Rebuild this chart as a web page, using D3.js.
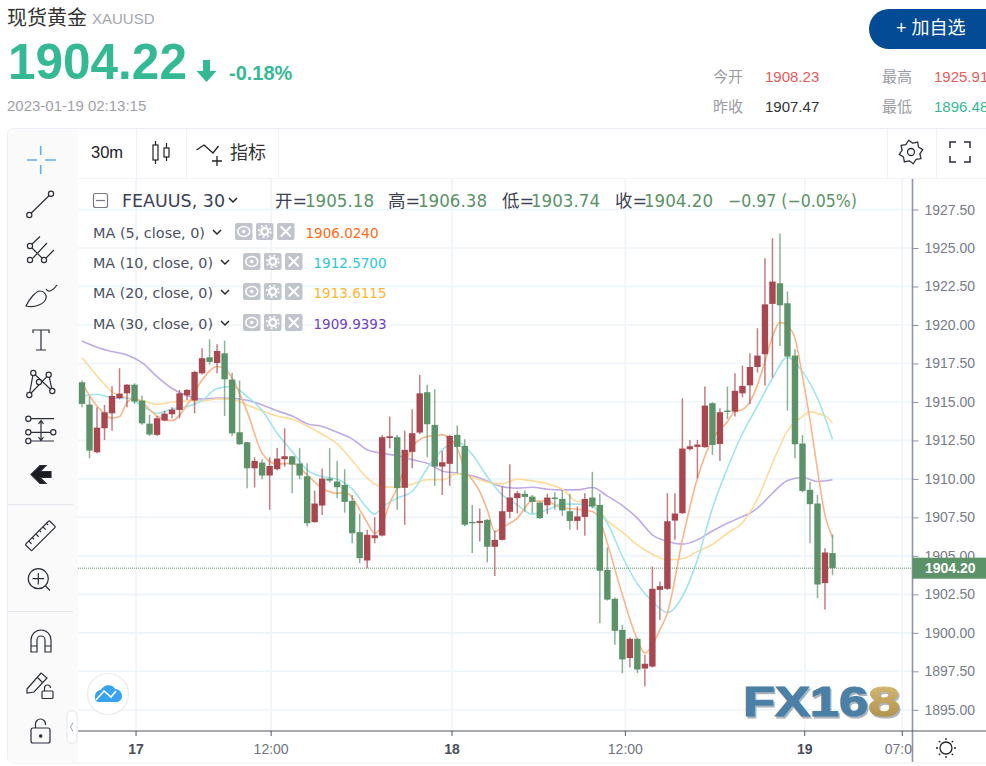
<!DOCTYPE html>
<html><head><meta charset="utf-8">
<script src="https://cdn.jsdelivr.net/npm/d3@7/dist/d3.min.js"></script>
<style>html,body{margin:0;padding:0;background:#fff;overflow:hidden}svg{display:block}</style>
</head><body><svg id="c" width="986" height="766"></svg>
<script>
// ---------- data ----------
const openP=[1916.28,1914.83,1911.73,1913.29,1914.26,1915.24,1915.56,1916.12,1915.09,1913.59,
1912.86,1913.79,1914.20,1914.48,1915.43,1915.09,1916.86,1917.90,1917.53,1918.16,
1916.45,1913.03,1912.38,1910.69,1911.06,1910.22,1910.63,1911.28,1911.47,1911.00,
1910.17,1907.19,1908.27,1910.02,1909.83,1909.61,1908.57,1906.54,1904.70,1906.15,
1906.32,1912.66,1912.71,1909.42,1911.76,1913.01,1915.63,1913.51,1910.80,1910.98,
1912.86,1912.14,1907.21,1907.14,1907.34,1905.59,1906.04,1907.86,1908.75,1909.03,
1908.85,1908.47,1908.29,1908.79,1908.70,1907.90,1907.27,1907.53,1908.79,1908.31,
1904.09,1902.21,1900.19,1898.36,1899.61,1897.68,1897.81,1902.79,1902.86,1907.29,
1907.77,1911.93,1912.08,1912.06,1914.92,1912.27,1914.44,1914.37,1915.56,1916.08,
1917.27,1918.10,1921.37,1922.71,1921.41,1918.01,1912.30,1909.29,1908.40,1903.23,1905.18];
const highP=[1916.39,1915.35,1914.65,1914.80,1916.04,1917.19,1916.15,1916.21,1915.41,1914.16,
1914.09,1914.41,1914.65,1915.78,1915.82,1917.03,1918.49,1919.07,1918.74,1918.98,
1916.90,1916.39,1912.42,1911.41,1911.28,1911.41,1912.00,1913.29,1911.49,1912.00,
1911.02,1909.24,1910.67,1912.00,1911.17,1910.63,1908.96,1907.73,1906.69,1907.51,
1912.86,1914.05,1912.86,1913.14,1914.53,1916.76,1916.11,1915.82,1911.82,1912.86,
1913.47,1912.58,1908.31,1908.08,1907.38,1906.63,1909.50,1910.95,1909.22,1909.24,
1908.96,1908.49,1909.03,1909.14,1909.29,1909.03,1908.21,1909.07,1910.46,1909.03,
1905.54,1902.29,1900.52,1899.70,1899.65,1898.57,1904.31,1903.33,1909.07,1909.07,
1915.24,1912.53,1912.53,1916.00,1914.98,1914.59,1916.00,1916.86,1917.36,1918.16,
1919.79,1924.33,1925.63,1925.95,1922.17,1918.42,1912.86,1909.81,1908.96,1905.50,1906.38];
const lowP=[1914.66,1911.34,1911.67,1912.53,1913.12,1915.17,1914.65,1914.87,1913.51,1912.79,
1912.79,1913.74,1913.94,1913.94,1915.13,1914.26,1916.78,1917.42,1916.86,1914.09,
1912.79,1912.21,1909.39,1909.44,1909.98,1907.99,1910.54,1910.80,1909.07,1909.98,
1906.90,1907.16,1907.66,1909.76,1908.75,1907.81,1905.82,1904.53,1904.20,1905.82,
1906.26,1911.99,1907.99,1907.02,1910.69,1912.92,1911.41,1909.55,1908.96,1909.55,
1910.37,1906.91,1905.18,1905.93,1904.57,1903.70,1906.00,1907.45,1907.77,1907.88,
1907.77,1907.40,1907.71,1907.99,1907.60,1906.69,1906.69,1906.30,1908.10,1900.63,
1902.10,1899.22,1897.38,1897.75,1897.38,1896.52,1897.75,1900.84,1902.79,1906.04,
1907.73,1911.84,1910.04,1912.03,1911.56,1911.17,1913.88,1914.05,1915.30,1914.85,
1916.91,1916.06,1916.58,1918.64,1914.44,1911.34,1909.11,1905.82,1902.25,1901.50,1903.74];
const closeP=[1914.87,1911.84,1913.33,1914.33,1915.39,1915.54,1916.12,1915.02,1913.61,1912.88,
1913.94,1914.24,1914.50,1915.56,1915.78,1916.95,1917.84,1917.60,1918.31,1916.47,
1912.96,1912.25,1910.69,1911.17,1910.22,1910.84,1911.32,1911.47,1910.93,1910.22,
1907.12,1908.40,1910.02,1909.89,1909.46,1908.51,1906.47,1904.85,1906.37,1906.34,
1912.71,1912.77,1909.40,1911.89,1912.97,1915.56,1913.55,1910.80,1911.08,1912.79,
1912.08,1907.02,1907.14,1907.27,1905.59,1906.04,1907.90,1908.79,1909.07,1908.83,
1908.51,1907.45,1908.79,1908.70,1907.95,1907.27,1907.56,1908.70,1908.21,1904.03,
1902.16,1900.13,1898.27,1899.61,1897.62,1897.99,1902.86,1903.03,1907.25,1907.75,
1911.97,1912.12,1912.23,1914.76,1912.21,1914.33,1914.37,1915.72,1916.04,1917.27,
1918.01,1921.34,1922.82,1921.28,1917.95,1912.25,1909.22,1908.36,1903.14,1905.22,1904.20];

const ma5Index=[0,2,4,5,6,7,8,10,12,14,16,18,19,20,22,24,25,26,28,30,32,34,35,36,37,38,39,40,41,42,44,46,48,50,51,52,53,54,55,56,58,60,62,64,66,68,69,70,72,74,75,76,77,78,80,82,84,86,87,88,89,90,91,92,93,94,95,96,97,98,99,100];
const ma5Values=[1916.21,1914.74,1913.94,1914.05,1914.96,1915.24,1914.96,1914.09,1913.79,1914.80,1916.43,1917.30,1917.19,1916.54,1914.37,1911.67,1911.13,1910.96,1911.02,1910.26,1909.39,1909.07,1909.11,1908.80,1907.99,1907.17,1906.47,1907.02,1908.42,1909.40,1912.06,1912.75,1912.86,1911.99,1910.59,1909.94,1909.18,1907.99,1906.58,1906.84,1907.45,1908.57,1908.53,1908.10,1908.03,1907.88,1907.34,1905.82,1902.47,1899.55,1898.68,1899.22,1900.19,1901.28,1906.04,1910.04,1912.58,1913.72,1914.37,1914.50,1915.02,1916.11,1917.62,1919.24,1920.17,1919.94,1919.14,1916.65,1913.83,1910.59,1907.66,1906.20];
const ma10Index=[0,2,4,6,8,10,12,14,16,18,20,22,24,26,28,30,32,34,36,38,39,40,42,44,46,48,50,52,54,56,58,60,62,64,66,68,70,72,74,76,78,80,82,84,86,88,90,92,94,96,98,100];
const ma10Values=[1915.35,1915.50,1915.28,1915.24,1914.76,1914.26,1914.53,1914.70,1915.09,1915.87,1916.00,1915.35,1914.44,1912.96,1911.78,1910.59,1910.15,1909.98,1909.35,1908.10,1907.71,1908.16,1908.75,1909.18,1910.69,1911.89,1912.43,1911.58,1910.15,1908.96,1908.31,1907.71,1907.99,1908.36,1908.36,1908.21,1907.12,1904.96,1903.18,1902.03,1901.32,1902.36,1904.74,1908.10,1910.69,1912.95,1914.74,1916.54,1917.90,1916.97,1915.24,1912.57];
const ma20Index=[0,2,4,6,8,10,12,14,16,18,20,22,24,26,28,30,32,34,36,38,40,42,44,46,48,50,52,54,56,58,60,62,64,66,68,70,72,74,76,78,80,82,84,86,88,90,92,94,96,97,98,99,100];
const ma20Values=[1917.88,1916.69,1915.67,1915.28,1915.09,1914.83,1915.00,1915.06,1915.06,1915.19,1915.17,1914.80,1914.42,1914.09,1913.87,1913.44,1912.90,1912.27,1911.20,1910.05,1909.48,1909.46,1909.66,1909.94,1909.94,1910.33,1910.11,1909.79,1909.68,1909.98,1909.87,1909.68,1909.33,1908.53,1908.49,1907.29,1906.54,1905.71,1905.11,1904.74,1904.81,1905.28,1905.74,1906.47,1907.15,1908.70,1911.02,1913.12,1914.05,1914.37,1914.24,1914.11,1913.61];
const ma30Index=[0,2,4,6,8,10,12,14,16,18,20,22,24,26,28,30,32,34,36,38,40,42,44,46,48,50,52,54,56,58,60,62,64,66,68,70,72,74,76,78,80,82,84,86,88,89,90,92,94,96,98,100];
const ma30Values=[1918.96,1918.55,1918.27,1918.05,1917.55,1916.64,1915.87,1915.41,1915.19,1915.26,1915.24,1915.11,1914.80,1914.42,1914.09,1913.59,1913.40,1913.03,1912.60,1911.89,1911.67,1911.50,1911.24,1911.02,1910.52,1910.37,1910.20,1909.87,1909.50,1909.40,1909.46,1909.33,1909.29,1909.29,1909.44,1908.88,1908.27,1907.45,1906.36,1905.93,1905.76,1906.04,1906.62,1907.12,1907.55,1907.77,1908.10,1909.07,1909.89,1910.09,1909.83,1909.94];

const priceTicks=[1895,1897.5,1900,1902.5,1905,1907.5,1910,1912.5,1915,1917.5,1920,1922.5,1925,1927.5];
const timeTickIndex=[7.2,25.2,49.3,72.4,96.3,109.3];
const timeTickLabels=["17","12:00","18","12:00","19","07:00"];
const timeTickBold=[true,false,true,false,true,false];
const lastPrice=1904.20;
const maNames=["MA (5, close, 0)","MA (10, close, 0)","MA (20, close, 0)","MA (30, close, 0)"];
const maLast=["1906.0240","1912.5700","1913.6115","1909.9393"];
const maTextColors=["#ff6a13","#2bc6da","#ffb52e","#6f3fc9"];
const maLineColors=["#f9b68c","#a0e4ec","#fddb9a","#bfaae5"];

// ---------- styles ----------
const UP="#a8474f",DOWN="#5b9268",GRID="#eef4f9",INK="#2a2e39",LAT='"Liberation Sans","Noto Sans CJK SC",sans-serif',TV='"DejaVu Sans","Noto Sans CJK SC",sans-serif';
const svg=d3.select("#c");
const L=78,R=912.5,T=179,B=731;
const x=d3.scaleLinear().domain([0,100]).range([82,832.5]);
const y=d3.scaleLinear().domain([1895,1925]).range([709.8,248]);
function txt(p,s,xx,yy,size,fill,o={}){return p.append("text").attr("x",xx).attr("y",yy).attr("font-size",size).attr("fill",fill).attr("font-family",o.f||LAT).attr("font-weight",o.w||400).attr("text-anchor",o.a||"start").text(s);}

// ---------- header ----------
const H=svg.append("g");
txt(H,"现货黄金",7,25,20,"#333");
txt(H,"XAUUSD",92,24,15,"#a5a5ad");
txt(H,"1904.22",8,79,49.5,"#35b995",{w:700});
H.append("path").attr("d","M203,60h7v11h6.5l-10,11l-10,-11h6.5z").attr("fill","#35b995");
txt(H,"-0.18%",229,80,20,"#35b995",{w:700});
txt(H,"2023-01-19 02:13:15",7,111,15,"#a0a0a8");
H.append("rect").attr("x",869).attr("y",9).attr("width",140).attr("height",40).attr("rx",20).attr("fill","#034b95");
txt(H,"+ 加自选",896,34,18,"#fff");
[["今开",713,82,"#9b9ba3"],["1908.23",765,82,"#e85a5a"],["最高",882,82,"#9b9ba3"],["1925.91",934,82,"#e85a5a"],
 ["昨收",713,112,"#9b9ba3"],["1907.47",765,112,"#333"],["最低",882,112,"#9b9ba3"],["1896.48",934,112,"#35b995"]]
 .forEach(d=>txt(H,d[0],d[1],d[2],15,d[3]));

// ---------- card and toolbars ----------
const C=svg.append("g");
C.append("rect").attr("x",7.5).attr("y",128.5).attr("width",1000).attr("height",634.5).attr("rx",6).attr("fill","#fff").attr("stroke","#eceef5");
C.append("path").attr("d","M78,129V763H13a5,5 0 0 1 -5,-5V134a5,5 0 0 1 5,-5z").attr("fill","#fafafa");
C.append("path").attr("d","M78,178.5H986M136.5,129V178M186.5,129V178M278.5,129V178M887.5,129V178M936.5,129V178").attr("stroke","#f1f2f6").attr("fill","none");

// ---------- plot ----------
const defs=svg.append("defs");
defs.append("clipPath").attr("id","plot").append("rect").attr("x",L).attr("y",T).attr("width",R-L).attr("height",B-T);
defs.append("clipPath").attr("id","timeclip").append("rect").attr("x",L).attr("y",B).attr("width",R-L).attr("height",32);
const g=svg.append("g").attr("clip-path","url(#plot)");
g.selectAll(".gh").data(priceTicks).join("line").attr("x1",L).attr("x2",R).attr("y1",d=>y(d)).attr("y2",d=>y(d)).attr("stroke",GRID).attr("stroke-width",1.6);
g.selectAll(".gv").data(timeTickIndex).join("line").attr("y1",T).attr("y2",B).attr("x1",d=>x(d)).attr("x2",d=>x(d)).attr("stroke",GRID).attr("stroke-width",1.6);

const maSets=[[ma30Index,ma30Values,3],[ma20Index,ma20Values,2],[ma10Index,ma10Values,1],[ma5Index,ma5Values,0]];
const lineGen=d3.line().x(d=>x(d[0])).y(d=>y(d[1])).curve(d3.curveMonotoneX);
maSets.forEach(([ix,v,k])=>{g.append("path").attr("d",lineGen(d3.zip(ix,v))).attr("fill","none").attr("stroke",maLineColors[k]).attr("stroke-width",1.6);});

g.append("line").attr("x1",L).attr("x2",R).attr("y1",y(lastPrice)).attr("y2",y(lastPrice)).attr("stroke",DOWN).attr("stroke-dasharray","1 1");

const candles=openP.map((o,i)=>({i,o,h:highP[i],l:lowP[i],c:closeP[i]}));
const cg=g.selectAll(".k").data(candles).join("g");
cg.append("line").attr("x1",d=>x(d.i)).attr("x2",d=>x(d.i)).attr("y1",d=>y(d.h)).attr("y2",d=>y(d.l)).attr("stroke",d=>d.c>=d.o?UP:DOWN).attr("stroke-width",1.5).attr("stroke-opacity",.7);
cg.append("rect").attr("x",d=>x(d.i)-3.2).attr("width",6.4).attr("y",d=>y(Math.max(d.o,d.c))).attr("height",d=>Math.max(1.4,Math.abs(y(d.o)-y(d.c)))).attr("fill",d=>d.c>=d.o?UP:DOWN);

// price axis
const ax=svg.append("g").attr("transform",`translate(${R},0)`).call(d3.axisRight(y).tickValues(priceTicks).tickSize(6).tickPadding(6).tickFormat(d3.format(".2f")));
ax.select(".domain").remove();
ax.selectAll("line").attr("stroke","#8d93a8");
ax.selectAll("text").attr("fill","#787c88").attr("font-size",14).attr("font-family",LAT);
svg.append("line").attr("x1",R).attr("x2",R).attr("y1",T).attr("y2",762).attr("stroke","#8d93ab").attr("stroke-width",1.6);
svg.append("rect").attr("x",R).attr("y",y(lastPrice)-10.5).attr("width",986-R).attr("height",21).attr("fill",DOWN);
txt(svg,d3.format(".2f")(lastPrice),925,y(lastPrice)+5,14,"#fff",{w:700});

// time axis
const tg=svg.append("g").attr("clip-path","url(#timeclip)");
svg.append("line").attr("x1",L).attr("x2",986).attr("y1",B).attr("y2",B).attr("stroke","#535663").attr("stroke-width",1.2);
tg.selectAll("line").data(timeTickIndex).join("line").attr("x1",d=>x(d)).attr("x2",d=>x(d)).attr("y1",B).attr("y2",B+5).attr("stroke","#535663");
tg.selectAll("text").data(timeTickLabels).join("text").attr("x",(d,i)=>x(timeTickIndex[i])).attr("y",754).attr("text-anchor","middle").attr("font-size",14).attr("font-family",LAT)
 .attr("font-weight",(d,i)=>timeTickBold[i]?700:400).attr("fill",(d,i)=>timeTickBold[i]?"#4a4e5a":"#6f7380").text(d=>d);

// ---------- legend ----------
const Lg=svg.append("g");
Lg.append("rect").attr("x",93.5).attr("y",193.5).attr("width",14).attr("height",14).attr("rx",2).attr("fill","#fff").attr("stroke","#787b86").attr("stroke-width",1.2);
Lg.append("line").attr("x1",96).attr("x2",105).attr("y1",200.5).attr("y2",200.5).attr("stroke","#787b86").attr("stroke-width",1.2);
txt(Lg,"FEAUUS, 30",122,207,17.5,"#3b4254",{f:TV}).attr("textLength",103).attr("lengthAdjust","spacingAndGlyphs");
const chev=(xx,yy,w=1.5)=>Lg.append("path").attr("d",`M${xx-4},${yy-2}l4,4l4,-4`).attr("fill","none").attr("stroke","#222").attr("stroke-width",w);
chev(233,200);
const headLabels=[["开=",275,"#3b4254",0],["1905.18",305,DOWN,69],["高=",388,"#3b4254",0],["1906.38",418,DOWN,69],["低=",502,"#3b4254",0],["1903.74",531,DOWN,69],["收=",615,"#3b4254",0],["1904.20",644,DOWN,69],["−0.97 (−0.05%)",728,DOWN,129]];
headLabels.forEach(d=>{const t=txt(Lg,d[0],d[1],207,17.5,d[2],{f:TV}); if(d[3]) t.attr("textLength",d[3]).attr("lengthAdjust","spacingAndGlyphs");});
const rowY=[238,268,298,329],iconX=[235,243,243,243],valX=[305,313,313,313],chevX=[217,225,225,225],nameW=[112,120,120,120];
maNames.forEach((n,k)=>{
  const by=rowY[k];
  txt(Lg,n,93,by,14,"#4a5063",{f:TV}).attr("textLength",nameW[k]).attr("lengthAdjust","spacingAndGlyphs");
  chev(chevX[k],by-6,1.4);
  [0,1,2].forEach(j=>{
    const ix=iconX[k]+j*21,iy=by-15;
    Lg.append("rect").attr("x",ix).attr("y",iy).attr("width",17.5).attr("height",17).attr("rx",2).attr("fill","#c2c4cd");
    const cx=ix+8.75,cy=iy+8.5;
    if(j==0){Lg.append("ellipse").attr("cx",cx).attr("cy",cy).attr("rx",6).attr("ry",5).attr("fill","none").attr("stroke","#fff").attr("stroke-width",1.5);
      Lg.append("circle").attr("cx",cx).attr("cy",cy).attr("r",1.8).attr("fill","#fff");}
    if(j==1){Lg.append("circle").attr("cx",cx).attr("cy",cy).attr("r",3.5).attr("fill","none").attr("stroke","#fff").attr("stroke-width",2.4);
      Lg.append("circle").attr("cx",cx).attr("cy",cy).attr("r",6).attr("fill","none").attr("stroke","#fff").attr("stroke-width",1.6).attr("stroke-dasharray","2 2.7");}
    if(j==2){Lg.append("path").attr("d",`M${cx-5},${cy-5}l10,10M${cx+5},${cy-5}l-10,10`).attr("stroke","#fff").attr("stroke-width",2);}
  });
  txt(Lg,maLast[k],valX[k]+.5,by,14,maTextColors[k],{f:TV}).attr("textLength",73).attr("lengthAdjust","spacingAndGlyphs");
});

// ---------- top bar ----------
const Tb=svg.append("g");
txt(Tb,"30m",91,158,16.5,"#222");
Tb.append("path").attr("d","M155.5,141V164M166.5,143V161").attr("stroke","#222").attr("stroke-width",1.2);
Tb.append("rect").attr("x",153).attr("y",145).attr("width",5).attr("height",15).attr("fill","#fff").attr("stroke","#222").attr("stroke-width",1.2);
Tb.append("rect").attr("x",164).attr("y",148).attr("width",5).attr("height",9).attr("fill","#fff").attr("stroke","#222").attr("stroke-width",1.2);
Tb.append("path").attr("d","M196.5,150L204,145L213,153L218.5,146M217,156V166M212,161H222").attr("fill","none").attr("stroke","#222").attr("stroke-width",1.3);
txt(Tb,"指标",230,159,18,"#333");
// gear top right
const gear=d3.range(16).map(i=>{const a=i/16*2*Math.PI-Math.PI/16,r=(i%2==0)?12:9;return [911+r*Math.cos(a),152+r*Math.sin(a)];});
Tb.append("path").attr("d",d3.line().curve(d3.curveLinearClosed)(gear)).attr("fill","none").attr("stroke","#2a2e39").attr("stroke-width",1.3).attr("stroke-linejoin","round");
Tb.append("circle").attr("cx",911).attr("cy",152).attr("r",3.5).attr("fill","none").attr("stroke","#2a2e39").attr("stroke-width",1.3);
Tb.append("path").attr("d","M950,148v-6h6M964,142h6v6M970,156v6h-6M956,162h-6v-6").attr("fill","none").attr("stroke","#2a2e39").attr("stroke-width",1.5);

// ---------- left toolbar ----------
const Ic=svg.append("g").attr("fill","none").attr("stroke",INK).attr("stroke-width",1.2);
const dot=(a,b,r=2.6)=>Ic.append("circle").attr("cx",a).attr("cy",b).attr("r",r).attr("fill","#fafafa");
Ic.append("path").attr("d","M27,160H37M45,160H56M40.7,146V155M40.7,165V174").attr("stroke","#5eb1f6").attr("stroke-width",1.6);
Ic.append("path").attr("d","M29.3,215L51,193.7"); dot(29.3,215); dot(51,193.7);
Ic.append("path").attr("d","M30,246L40,236.5M33,258L47,243M46,258L54,250M30,246L44,260"); dot(30,246); dot(30,260); dot(44,260);
Ic.append("path").attr("d","M26,306C30,298 36,291 40,291C44,291 47,295 46,298C45,304 35,308 26,306ZM46,289C48,293 53,291 57,285");
Ic.append("path").attr("d","M33,333V330H49V333M41,330V350M36,350H46");
Ic.append("path").attr("d","M29.3,395L33.3,373L52.3,391L48.7,374.7L29.3,395"); dot(29.3,395);dot(33.3,373);dot(39,382);dot(48.7,374.7);dot(52.3,391);
Ic.append("path").attr("d","M31,418.7H54M31,432.3H51M31,441H54M41,421V440M38.5,424L41,420.5L43.5,424M38.5,437L41,440.5L43.5,437"); dot(28.3,418.7);dot(28.3,432.3);dot(53.3,432.3);dot(28.3,441);
Ic.append("path").attr("d","M31,474.5l9,-9h6l-6,6h11v6h-11l6,6h-6z").attr("fill","#1b1b22");
Ic.append("path").attr("d","M8,504.5H73M8,611.5H73").attr("stroke","#e4e6ee").attr("stroke-width",1.2);
Ic.append("g").attr("transform","translate(40.4,535.7) rotate(-45)").call(s=>{s.append("rect").attr("x",-17).attr("y",-4.5).attr("width",34).attr("height",9).attr("rx",1);
  s.append("path").attr("d","M-12,-4.5v4M-7,-4.5v2.5M-2,-4.5v4M3,-4.5v2.5M8,-4.5v4M13,-4.5v2.5");});
Ic.append("circle").attr("cx",38.3).attr("cy",578.7).attr("r",10);
Ic.append("path").attr("d","M32.5,578.7H44M38.3,573V584.5M45.5,586L50,590.5");
Ic.append("path").attr("d","M31,652V640a10,10 0 0 1 20,0V652H45V640a4,4 0 0 0 -8,0V652ZM31,646H37M45,646H51");
Ic.append("path").attr("d","M27,689L41,673L47,678L34,692L27,693ZM37,677L43,683");
Ic.append("rect").attr("x",42).attr("y",691).attr("width",11).attr("height",7.5).attr("rx",1);
Ic.append("path").attr("d","M44.5,691V688a3,3 0 0 1 6,0");
Ic.append("rect").attr("x",31).attr("y",728).attr("width",19).attr("height",15).attr("rx",2);
Ic.append("path").attr("d","M35.5,728V724a5,5 0 0 1 10,0V725");
Ic.append("circle").attr("cx",40.7).attr("cy",736).attr("r",1.2).attr("fill",INK);
// collapse handle
svg.append("rect").attr("x",67).attr("y",710.5).attr("width",10).attr("height",33).attr("rx",5).attr("fill","#fff").attr("stroke","#e5e6ea");
svg.append("path").attr("d","M73,722.5l-2.5,4.5l2.5,4.5").attr("fill","none").attr("stroke","#8fa3b8");
// brand bubble
svg.append("circle").attr("cx",108).attr("cy",694).attr("r",20.5).attr("fill","#fff").attr("stroke","#ececec").attr("stroke-width",1.2);
svg.append("path").attr("d","M95,697C95,692 98,690 101,690C103,685 112,683 115,689C120,689 122,693 122,696C122,700 119,702 116,702H99C96,702 95,700 95,697Z").attr("fill","#38a3f1");
svg.append("path").attr("d","M96,700L104,691L111,697L116,691").attr("fill","none").attr("stroke","#fff").attr("stroke-width",1.6);
// watermark
const gr=defs.append("linearGradient").attr("id","gold").attr("x1",0).attr("x2",0).attr("y1",0).attr("y2",1);
gr.append("stop").attr("offset",0).attr("stop-color","#dcc07a");gr.append("stop").attr("offset",1).attr("stop-color","#a98a45");
[["FX16",743,125,"#4a7fa6"],["8",868,32,"url(#gold)"]].forEach(([s,xx,w,col])=>{
  txt(svg,s,xx+1.5,717.5,43,"#4e5a63",{w:700}).attr("textLength",w).attr("lengthAdjust","spacingAndGlyphs").attr("opacity",.45).attr("stroke","#4e5a63").attr("stroke-width",1.2);
  txt(svg,s,xx,716,43,col,{w:700}).attr("textLength",w).attr("lengthAdjust","spacingAndGlyphs").attr("stroke",col).attr("stroke-width",1.2);
});
// sun
svg.append("circle").attr("cx",946).attr("cy",748).attr("r",6).attr("fill","none").attr("stroke","#222").attr("stroke-width",1.3);
svg.append("g").attr("stroke","#222").attr("stroke-width",1.3).selectAll("line").data(d3.range(8)).join("line")
 .attr("x1",d=>946+8*Math.cos(d*Math.PI/4)).attr("y1",d=>748+8*Math.sin(d*Math.PI/4))
 .attr("x2",d=>946+10*Math.cos(d*Math.PI/4)).attr("y2",d=>748+10*Math.sin(d*Math.PI/4));
</script></body></html>
